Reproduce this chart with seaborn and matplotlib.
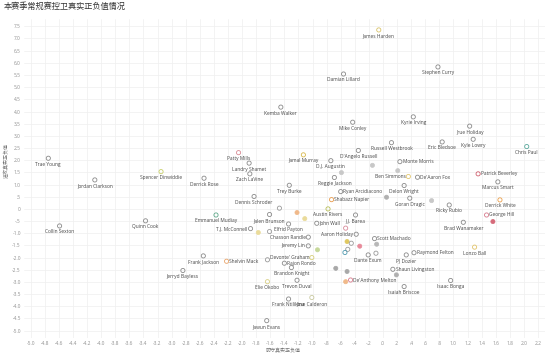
import matplotlib
matplotlib.use("Agg")
import matplotlib.pyplot as plt
import seaborn as sns
import pandas as pd

# ---------------- data ----------------
players = ["James Harden", "Stephen Curry", "Damian Lillard", "Kemba Walker", "Kyrie Irving",
           "Mike Conley", "Jrue Holiday", "Russell Westbrook", "Eric Bledsoe", "Kyle Lowry",
           "Chris Paul", "D'Angelo Russell", "Trae Young", "Patty Mills", "Jamal Murray",
           "D.J. Augustin", "Monte Morris", "Landry Shamet", "Spencer Dinwiddie", "Patrick Beverley",
           "Zach LaVine", "Ben Simmons", "De'Aaron Fox", "Derrick Rose", "Jordan Clarkson",
           "Reggie Jackson", "Marcus Smart", "Delon Wright", "Trey Burke", "Ryan Arcidiacono",
           "Dennis Schroder", "Goran Dragic", "Shabazz Napier", "Derrick White", "Ricky Rubio",
           "Austin Rivers", "George Hill", "Emmanuel Mudiay", "Jalen Brunson", "J.J. Barea",
           "Quinn Cook", "Brad Wanamaker", "John Wall", "Elfrid Payton", "Collin Sexton",
           "T.J. McConnell", "Aaron Holiday", "Chasson Randle", "Scott Machado", "Jeremy Lin",
           "Lonzo Ball", "Raymond Felton", "Dante Exum", "PJ Dozier", "Frank Jackson",
           "Devonte' Graham", "Shelvin Mack", "Rajon Rondo", "Brandon Knight", "Shaun Livingston",
           "Jerryd Bayless", "Trevon Duval", "Elie Okobo", "De'Anthony Melton", "Isaac Bonga",
           "Isaiah Briscoe", "Jose Calderon", "Frank Ntilikina", "Jawun Evans"]
drpm = [-0.06, 0.78, -0.56, -1.45, 0.43,
        -0.43, 1.23, 0.12, 0.84, 1.28,
        2.04, -0.35, -4.75, -2.05, -1.13,
        -0.74, 0.24, -1.90, -3.15, 1.35,
        -1.89, 0.36, 0.49, -2.54, -4.09,
        -0.69, 1.63, 0.30, -1.33, -0.60,
        -1.83, 0.38, -0.73, 1.66, 0.94,
        -0.78, 1.47, -2.37, -1.61, -0.39,
        -3.37, 1.14, -0.94, -1.34, -4.59,
        -1.88, -0.38, -1.06, -0.12, -1.06,
        1.30, 0.44, -0.21, 0.33, -2.55,
        -1.01, -2.22, -1.40, -1.30, 0.14,
        -2.84, -1.22, -1.64, -0.46, 0.96,
        0.30, -1.01, -1.34, -1.65]
orpm = [7.35, 5.83, 5.54, 4.18, 3.78,
        3.56, 3.40, 2.72, 2.75, 2.86,
        2.56, 2.40, 2.08, 2.31, 2.22,
        1.98, 1.94, 1.88, 1.53, 1.44,
        1.44, 1.33, 1.30, 1.26, 1.19,
        1.29, 1.11, 0.96, 0.97, 0.71,
        0.51, 0.44, 0.38, 0.37, 0.16,
        0.00, -0.25, -0.25, -0.23, -0.25,
        -0.49, -0.55, -0.59, -0.62, -0.70,
        -0.81, -1.04, -1.16, -1.22, -1.52,
        -1.57, -1.80, -1.89, -1.89, -1.93,
        -2.00, -2.15, -2.23, -2.41, -2.48,
        -2.53, -2.93, -2.99, -2.92, -2.94,
        -3.19, -3.64, -3.70, -4.59]

# players whose names are hidden in the chart (labels suppressed)
other_drpm = [-1.47, -1.22, -1.11, -1.77, -1.61, -1.64, -0.15, -0.59, 0.21, 0.05,
              0.69, 1.56, -0.53, -0.51, -0.45, -0.33, -0.50, -0.54, -0.10, -0.93,
              -0.67, -0.51, -0.53, 0.19, -0.09]
other_orpm = [0.03, -0.15, -0.40, -0.97, -0.93, -2.09, 1.79, 1.49, 1.57, 0.48,
              0.34, -0.52, -0.79, -1.34, -1.41, -1.53, -1.66, -1.79, -1.82, -1.68,
              -2.44, -2.57, -2.99, -2.71, -1.45]

x_ticks = [round(-5.0 + 0.2 * i, 1) for i in range(37)]
y_ticks = [round(-5.0 + 0.5 * i, 1) for i in range(26)]

title = "本赛季常规赛控卫真实正负值情况"
x_title = "防守真实正负值"
y_title = "进攻真实正负值"

# ---------------- styling ----------------
GRAY = "#8a8a8a"
special_colors = {
    "James Harden": "#d9c36a", "Chris Paul": "#59a89c", "Patty Mills": "#d98a94",
    "Jamal Murray": "#d8b84a", "Spencer Dinwiddie": "#c8cf6a", "Patrick Beverley": "#d0606e",
    "Ben Simmons": "#e3c870", "Shabazz Napier": "#e89a4a", "Derrick White": "#eba04e",
    "Austin Rivers": "#b9bf5a", "George Hill": "#d77a8c", "Emmanuel Mudiay": "#5fa88a",
    "Lonzo Ball": "#e2c46a", "Devonte' Graham": "#d7cf7a", "Shelvin Mack": "#e8a46a",
    "Elie Okobo": "#d8cf84", "De'Anthony Melton": "#d97a8c", "Jose Calderon": "#c9c9a0",
}
palette = {p: special_colors.get(p, GRAY) for p in players}

other_colors = ["#9a9a9a", "#f0b98a", "#eadb9a", "#eadb9a", "#9a9a9a", "#9a9a9a",
                "#c8c8c8", "#c8c8c8", "#c8c8c8", "#b0b0b0", "#c8c8c8", "#d66a7a",
                "#d88a9a", "#e0c860", "#9a9a9a", "#e88a9a", "#9a9a9a", "#4f9ab0",
                "#9a9a9a", "#c6d89a", "#a8a8a8", "#a8a8a8", "#f0b98a", "#b0b0b0",
                "#b8b8b8"]
other_filled = [False, True, True, True, False, False, True, True, True, True,
                True, True, False, True, False, True, False, False, False, True,
                True, True, True, True, True]

label_pos = {
    "Monte Morris": "right", "Patrick Beverley": "right", "De'Aaron Fox": "right",
    "Ryan Arcidiacono": "right", "Shabazz Napier": "right", "George Hill": "right",
    "John Wall": "right", "Scott Machado": "right", "Raymond Felton": "right",
    "Shelvin Mack": "right", "Rajon Rondo": "right", "Shaun Livingston": "right",
    "De'Anthony Melton": "right",
    "Ben Simmons": "left", "T.J. McConnell": "left", "Aaron Holiday": "left",
    "Chasson Randle": "left", "Jeremy Lin": "left", "Devonte' Graham": "left",
}

sns.set_theme(style="white")
plt.rcParams["font.family"] = ["Open Sans", "Noto Sans CJK SC", "DejaVu Sans"]

fig = plt.figure(figsize=(5.5, 3.58), dpi=100)
ax = fig.add_axes([0.043, 0.056, 0.948, 0.891])

df = pd.DataFrame({"player": players, "drpm": drpm, "orpm": orpm})
df_o = pd.DataFrame({"drpm": other_drpm, "orpm": other_orpm,
                     "idx": list(range(len(other_drpm)))})

# hidden-name points
for filled in (True, False):
    sub = df_o[[f == filled for f in other_filled]]
    cols = [other_colors[i] for i in sub["idx"]]
    if filled:
        sns.scatterplot(data=sub, x="drpm", y="orpm", hue="idx",
                        palette={i: other_colors[i] for i in sub["idx"]},
                        s=9, linewidth=0.5, edgecolor=cols, legend=False, ax=ax, zorder=3)
    else:
        sns.scatterplot(data=sub, x="drpm", y="orpm", s=9, facecolor="none",
                        edgecolor=cols, linewidth=0.6, legend=False, ax=ax, zorder=3)

sns.scatterplot(data=df, x="drpm", y="orpm", s=9, facecolor="none",
                edgecolor=[palette[p] for p in players], linewidth=0.6,
                legend=False, ax=ax, zorder=4)

for p, xv, yv in zip(players, drpm, orpm):
    pos = label_pos.get(p, "below")
    if pos == "below":
        ax.annotate(p, (xv, yv), xytext=(0, -4.3), textcoords="offset points",
                    ha="center", va="center", fontsize=3.5, color="#444444", zorder=5)
    elif pos == "right":
        ax.annotate(p, (xv, yv), xytext=(2.0, 0), textcoords="offset points",
                    ha="left", va="center", fontsize=3.5, color="#444444", zorder=5)
    else:
        ax.annotate(p, (xv, yv), xytext=(-2.0, 0), textcoords="offset points",
                    ha="right", va="center", fontsize=3.5, color="#444444", zorder=5)

def fmt(v, zero):
    if abs(v) < 1e-9:
        return zero
    s = f"{v:.1f}"
    s = s.replace("-0.", "-.")
    if s.startswith("0."):
        s = s[1:]
    return s

ax.set_xlim(-5.1, 2.3)
ax.set_ylim(-5.3, 7.8)
ax.set_xticks(x_ticks)
ax.set_xticklabels([fmt(v, ".0") for v in x_ticks])
ax.set_yticks(y_ticks)
ax.set_yticklabels([fmt(v, "0") for v in y_ticks])
ax.tick_params(axis="both", length=0, labelsize=3.5, labelcolor="#8f8f8f", pad=2)
ax.grid(True, color="#efefef", linewidth=0.5)
for sp in ax.spines.values():
    sp.set_visible(False)
ax.set_xlabel("")
ax.set_ylabel("")

fig.text(0.515, 1 - 351 / 358, x_title, ha="center", va="center",
         fontsize=3.6, color="#777777")
fig.text(0.011, 1 - 160 / 358, y_title, ha="center", va="center",
         rotation=90, fontsize=3.6, color="#777777")
fig.text(0.006, 1 - 6.5 / 358, title, ha="left", va="center",
         fontsize=5.9, color="#333333", family=["Noto Sans CJK SC", "DejaVu Sans"])

fig.savefig("out.png", dpi=100)
